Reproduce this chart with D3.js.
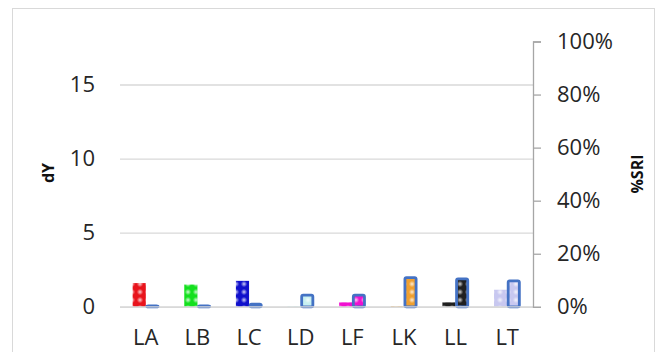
<!DOCTYPE html>
<html><head><meta charset="utf-8">
<script src="https://cdn.jsdelivr.net/npm/d3@7"></script>
<style>body{margin:0;background:#fff}svg{display:block}</style>
</head><body>
<svg id="c" width="659" height="352"></svg>
<script>
const categories = ["LA","LB","LC","LD","LF","LK","LL","LT"];
const dY = [1.6, 1.5, 1.75, 0.05, 0.3, 0.05, 0.3, 1.15];
const sri = [0.003, 0.003, 0.01, 0.044, 0.044, 0.11, 0.105, 0.098];
const colors = ["#e8141c","#14e01e","#1010cc","#c8f0f0","#f010d0","#f0a030","#202020","#c8c8f0"];
const leftTicks = [0,5,10,15];
const rightTicks = [0,0.2,0.4,0.6,0.8,1.0];

const svg = d3.select("#c");
const font = "'Open Sans', sans-serif";
const L=120, R=533, T=41.5, B=306.8;

svg.append("rect").attr("x",12.5).attr("y",8.5).attr("width",642).attr("height",360)
  .attr("fill","#fff").attr("stroke","#d9d9d9");

const defs = svg.append("defs");
const rg = defs.append("radialGradient").attr("id","spot");
rg.append("stop").attr("offset","0%").attr("stop-color","#fff").attr("stop-opacity",0.8);
rg.append("stop").attr("offset","100%").attr("stop-color","#fff").attr("stop-opacity",0);
colors.forEach((c,i)=>{
  const p = defs.append("pattern").attr("id","p"+i).attr("patternUnits","userSpaceOnUse")
    .attr("width",8).attr("height",8);
  p.append("rect").attr("width",8).attr("height",8).attr("fill",c);
  p.append("circle").attr("cx",4).attr("cy",4).attr("r",3.2).attr("fill","url(#spot)");
});

const x = d3.scaleBand().domain(categories).range([L,R]).paddingInner(0.49).paddingOuter(0.245);
const x1 = d3.scaleBand().domain(["dY","SRI"]).range([0,x.bandwidth()]);
const y = d3.scaleLinear().domain([0,17.9]).range([B,T]);
const y2 = d3.scaleLinear().domain([0,1]).range([B,T]);

// gridlines
const gl = d3.axisLeft(y).tickValues(leftTicks).tickSize(-(R-L)).tickFormat("");
const g = svg.append("g").attr("transform",`translate(${L},0)`).call(gl);
g.select(".domain").remove();
g.selectAll("line").attr("stroke","#d9d9d9").attr("stroke-width",1.3);

// left labels
const la = svg.append("g").attr("transform",`translate(${L},0)`)
  .call(d3.axisLeft(y).tickValues(leftTicks).tickSize(0).tickPadding(25));
la.select(".domain").remove();
la.selectAll("text").attr("font-family",font).attr("font-size",22).attr("fill","#262626");

// bars dY
svg.append("g").selectAll("rect").data(categories).join("rect")
  .attr("x",d=>x(d)+x1("dY")).attr("width",x1.bandwidth())
  .attr("y",(d,i)=>y(dY[i])).attr("height",(d,i)=>B-y(dY[i]))
  .attr("fill",(d,i)=>`url(#p${i})`);

// bars SRI
svg.append("g").selectAll("rect").data(categories).join("rect")
  .attr("x",d=>x(d)+x1("SRI")+1).attr("width",x1.bandwidth()-2)
  .attr("y",(d,i)=>y2(sri[i])).attr("height",(d,i)=>B-y2(sri[i]))
  .attr("rx",1.5)
  .attr("fill",(d,i)=>`url(#p${i})`).attr("stroke","#4472c4").attr("stroke-width",2.8);

// baseline
svg.append("line").attr("x1",L).attr("x2",R).attr("y1",B).attr("y2",B)
  .attr("stroke","#d9d9d9").attr("stroke-width",1.3);

// right axis
const ra = svg.append("g").attr("transform",`translate(${R},0)`)
  .call(d3.axisRight(y2).tickValues(rightTicks).tickSize(8).tickSizeOuter(8).tickPadding(16).tickFormat(d3.format(".0%")));
ra.select(".domain").attr("stroke","#a6a6a6").attr("stroke-width",1.3);
ra.selectAll("line").attr("stroke","#a6a6a6").attr("stroke-width",1.3);
ra.selectAll("text").attr("font-family",font).attr("font-size",22).attr("fill","#262626");

// category labels
svg.append("g").selectAll("text").data(categories).join("text")
  .attr("x",d=>x(d)+x.bandwidth()/2).attr("y",345).attr("text-anchor","middle")
  .attr("font-family",font).attr("font-size",22).attr("fill","#262626").text(d=>d);

// axis titles
svg.append("text").attr("transform","translate(54,173) rotate(-90)").attr("text-anchor","middle")
  .attr("font-family",font).attr("font-size",16).attr("font-weight","bold").attr("fill","#111").text("dY");
svg.append("text").attr("transform","translate(643,174) rotate(-90)").attr("text-anchor","middle")
  .attr("font-family",font).attr("font-size",16).attr("font-weight","bold").attr("fill","#111").text("%SRI");
</script>
</body></html>
